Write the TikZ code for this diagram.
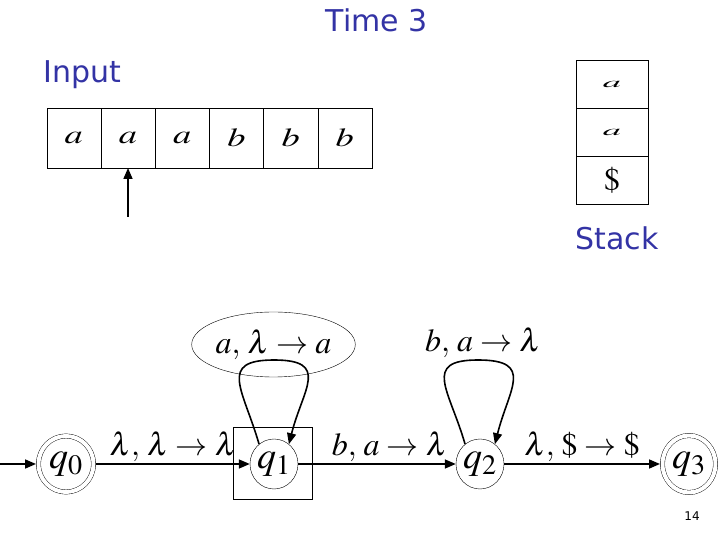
\documentclass[tikz,border=0pt]{standalone}
\usepackage{mathptmx}
\usepackage[no-math]{fontspec}
\newfontfamily\slidefont{DejaVu Sans}
\usetikzlibrary{arrows.meta,positioning,shapes.geometric}
\definecolor{slideblue}{RGB}{51,51,165}
\tikzset{
  cell/.style={draw,rectangle,minimum width=54.2pt,minimum height=60pt,inner sep=0pt,outer sep=0pt,font=\fontsize{26}{28}\selectfont},
  stackcell/.style={draw,rectangle,minimum width=72pt,minimum height=48pt,inner sep=0pt,outer sep=0pt,font=\fontsize{26}{28}\selectfont},
  stnode/.style={draw,ellipse,minimum width=48pt,minimum height=50pt,inner sep=0pt,font=\fontsize{38}{40}\selectfont},
  accept/.style={stnode,double,double distance=4pt,minimum width=55pt,minimum height=56pt,outer sep=2.5pt},
  trlabel/.style={font=\fontsize{32}{34}\selectfont,inner sep=1pt},
  title/.style={text=slideblue,font=\slidefont\fontsize{30}{33}\selectfont},
  edge/.style={->,line width=1.6pt}
}
\newcommand{\tapesym}[1]{\scalebox{1.4}[1]{$#1$}}
\newcommand{\stacksym}[1]{\scalebox{1.4}[0.55]{$#1$}}
\begin{document}
\begin{tikzpicture}[x=1pt,y=1pt,>={Triangle[length=11pt,width=9pt]}]
  \useasboundingbox (0,0) rectangle (720,540);
  % headings
  \node[title] (time) at (377,520) {Time 3};
  \node[title,anchor=west,inner sep=0pt] (inp) at (43,465) {Input};
  \node[title] (stk) at (617,302) {Stack};
  % input tape
  \node[cell] (t1) at (73.8,402) {\tapesym{a}};
  \node[cell,right=0pt of t1] (t2) {\tapesym{a}};
  \node[cell,right=0pt of t2] (t3) {\tapesym{a}};
  \node[cell,right=0pt of t3] (t4) {\tapesym{b}};
  \node[cell,right=0pt of t4] (t5) {\tapesym{b}};
  \node[cell,right=0pt of t5] (t6) {\tapesym{b}};
  \coordinate (hd) at (t2.south |- 0,323);
  \draw[edge] (hd) -- (t2.south);
  % stack
  \node[stackcell] (s1) at (612,456) {\stacksym{a}};
  \node[stackcell,below=0pt of s1] (s2) {\stacksym{a}};
  \node[stackcell,below=0pt of s2,font=\fontsize{32}{34}\selectfont] (s3) {$\$$};
  % automaton
  \node[accept] (q0) at (66,76) {$q_0$};
  \node[stnode] (q1) at (274,76) {$q_1$};
  \node[stnode] (q2) at (480,76) {$q_2$};
  \node[accept,minimum width=53pt,minimum height=57pt] (q3) at (689,76) {$q_3$};
  \node[draw,rectangle,minimum width=79pt,minimum height=72pt] (q1box) at (272.5,77) {};
  \coordinate (start) at (0,76);
  \draw[edge] (start) -- (q0);
  \draw[edge] (q0) -- node[trlabel,above]{$\lambda,\,\lambda\rightarrow\lambda$} (q1);
  \draw[edge] (q1) -- node[trlabel,above,pos=0.58]{$b,\,a\rightarrow\lambda$} (q2);
  \draw[edge] (q2) -- node[trlabel,above]{$\lambda,\,\$\rightarrow\$$} (q3);
  % loops
  \coordinate (q1top) at (274,180);
  \coordinate (q2top) at (478,180);
  \draw[edge] (q1.127) to[out=106,in=180,looseness=1.7] (q1top) to[out=0,in=76,looseness=1.7] (q1.53);
  \draw[edge] (q2.127) to[out=106,in=180,looseness=1.7] (q2top) to[out=0,in=76,looseness=1.7] (q2.53);
  \node[trlabel,draw,ellipse,minimum width=163pt,minimum height=65pt,inner sep=0pt] (l1) at (273.5,195.5) {$a,\,\lambda\rightarrow a$};
  \node[trlabel] (l2) at (483,197) {$b,\,a\rightarrow\lambda$};
  \node[font=\slidefont\fontsize{12}{14}\selectfont] (pg) at (692,24) {14};
\end{tikzpicture}
\end{document}
